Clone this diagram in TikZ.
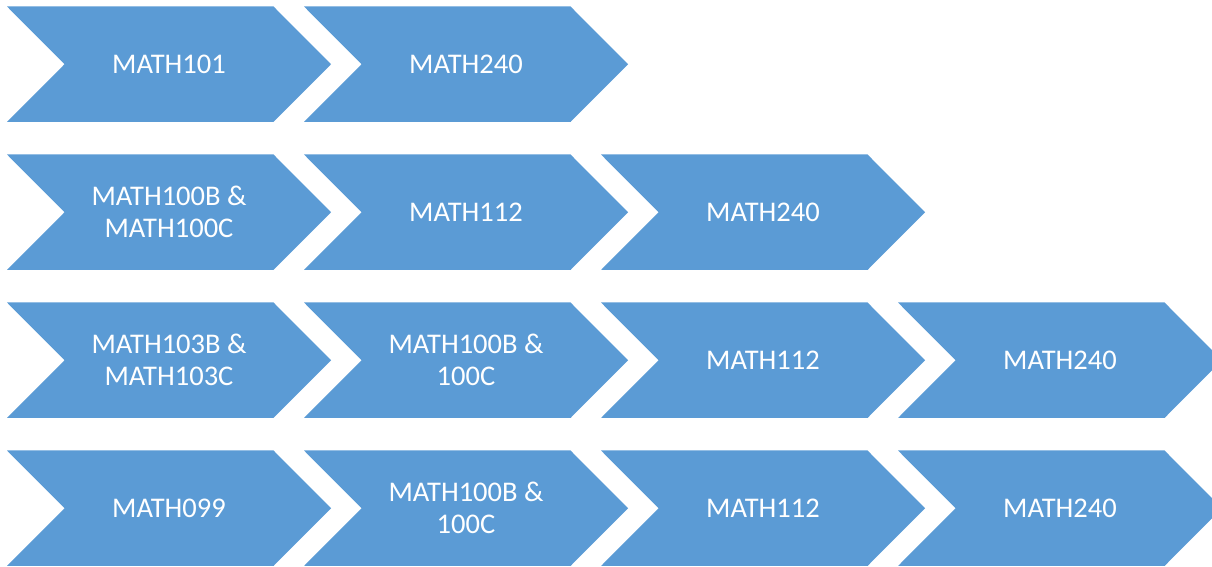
\documentclass[tikz,border=0pt]{standalone}
\usepackage{fontspec}
\setmainfont{Carlito}
\definecolor{chevblue}{HTML}{5B9BD5}
\tikzset{
  chevtext/.style={text=white, align=center, font=\fontsize{28.5}{32}\selectfont, inner sep=0pt}
}
\newcommand{\chev}[4]{% #1 left x, #2 top y (px from top), #3 name, #4 text
  \fill[chevblue] (#1pt,567pt-#2pt) -- ++(266.5pt,0) -- ++(57.5pt,-57.75pt) -- ++(-57.5pt,-57.75pt) -- ++(-266.5pt,0) -- ++(57.5pt,57.75pt) -- cycle;
  \node[chevtext] (#3) at (#1pt+162pt,567pt-#2pt-57.75pt) {#4};
}
\begin{document}
\begin{tikzpicture}[x=1pt,y=1pt]
\useasboundingbox (0,0) rectangle (1212,567);
\clip (0,0) rectangle (1212,567);
% row 1
\chev{7}{6.5}{a1}{MATH101}
\chev{304}{6.5}{a2}{MATH240}
% row 2
\chev{7}{154.5}{b1}{MATH100B \&\\MATH100C}
\chev{304}{154.5}{b2}{MATH112}
\chev{601}{154.5}{b3}{MATH240}
% row 3
\chev{7}{302.5}{c1}{MATH103B \&\\MATH103C}
\chev{304}{302.5}{c2}{MATH100B \&\\100C}
\chev{601}{302.5}{c3}{MATH112}
\chev{898}{302.5}{c4}{MATH240}
% row 4
\chev{7}{450.5}{d1}{MATH099}
\chev{304}{450.5}{d2}{MATH100B \&\\100C}
\chev{601}{450.5}{d3}{MATH112}
\chev{898}{450.5}{d4}{MATH240}
\end{tikzpicture}
\end{document}
